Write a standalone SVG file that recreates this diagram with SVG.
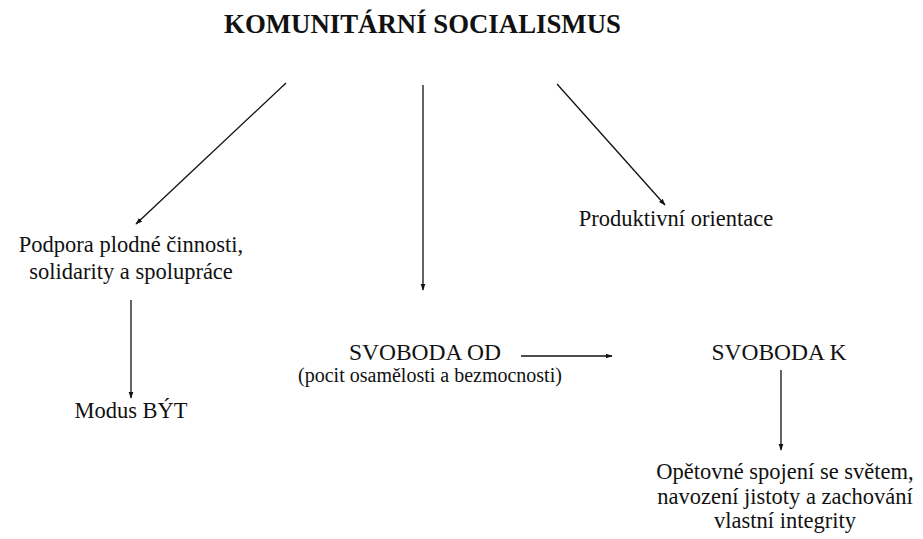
<svg xmlns="http://www.w3.org/2000/svg" width="923" height="539" viewBox="0 0 923 539">
<style>
text{font-family:"Liberation Serif","Times New Roman",serif;fill:#111;text-anchor:middle;font-size:22.5px}
.title{font-weight:bold;font-size:26.8px}
.cap{font-size:23.5px}
.small{font-size:20px}
.c line{stroke:#111;stroke-width:1.3;marker-end:url(#ah)}
</style>
<defs>
<marker id="ah" viewBox="0 0 10 10" refX="9" refY="5" markerWidth="7" markerHeight="7" orient="auto" markerUnits="userSpaceOnUse">
<path d="M0,1.5 L10,5 L0,8.5 z" fill="#111"/>
</marker>
</defs>
<g id="title"><text class="title" x="422.5" y="33">KOMUNITÁRNÍ SOCIALISMUS</text></g>
<g id="podpora"><text x="131" y="252">Podpora plodné činnosti,</text><text x="131" y="279">solidarity a spolupráce</text></g>
<g id="produktivni"><text x="676" y="226">Produktivní orientace</text></g>
<g id="modus"><text x="131" y="418">Modus BÝT</text></g>
<g id="svoboda-od"><text class="cap" x="425" y="360">SVOBODA OD</text><text class="small" x="430" y="382">(pocit osamělosti a bezmocnosti)</text></g>
<g id="svoboda-k"><text class="cap" x="779" y="360">SVOBODA K</text></g>
<g id="spojeni"><text x="785" y="479">Opětovné spojení se světem,</text><text x="785" y="504">navození jistoty a zachování</text><text x="785" y="528">vlastní integrity</text></g>
<g class="c" id="connectors">
<line x1="286" y1="83" x2="136" y2="224"/>
<line x1="423" y1="85" x2="423" y2="290"/>
<line x1="557" y1="84" x2="665" y2="205"/>
<line x1="131" y1="300" x2="131" y2="398"/>
<line x1="521" y1="356" x2="612" y2="356"/>
<line x1="781" y1="370" x2="781" y2="450"/>
</g>
</svg>
